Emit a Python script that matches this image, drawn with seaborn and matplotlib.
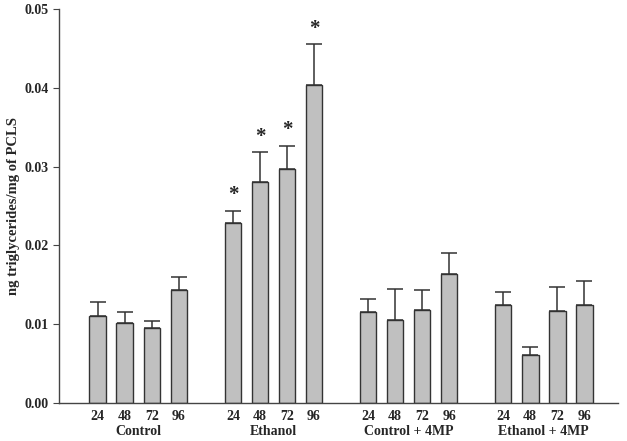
import numpy as np
import pandas as pd
import seaborn as sns
import matplotlib.pyplot as plt

groups = ["Control", "Ethanol", "Control + 4MP", "Ethanol + 4MP"]
hours = ["24", "48", "72", "96"]
means = {
    "Control": [0.0110, 0.0102, 0.0095, 0.0144],
    "Ethanol": [0.0229, 0.0280, 0.0297, 0.0403],
    "Control + 4MP": [0.0115, 0.0105, 0.0118, 0.0164],
    "Ethanol + 4MP": [0.0124, 0.0061, 0.0117, 0.0125],
}
errors = {
    "Control": [0.0018, 0.0014, 0.0009, 0.0016],
    "Ethanol": [0.0015, 0.0038, 0.0029, 0.0052],
    "Control + 4MP": [0.0017, 0.0040, 0.0026, 0.0026],
    "Ethanol + 4MP": [0.0017, 0.0010, 0.0030, 0.0030],
}
significant = {
    "Control": [False] * 4,
    "Ethanol": [True] * 4,
    "Control + 4MP": [False] * 4,
    "Ethanol + 4MP": [False] * 4,
}

# one slot per bar, one empty slot between groups
rows = []
for g_idx, g in enumerate(groups):
    for h_idx, h in enumerate(hours):
        rows.append({"pos": g_idx * 5 + h_idx, "group": g, "hour": h,
                     "mean": means[g][h_idx], "err": errors[g][h_idx],
                     "sig": significant[g][h_idx]})
df = pd.DataFrame(rows)

sns.set_style("ticks")
plt.rcParams['font.family'] = ['Liberation Serif', 'DejaVu Serif']
plt.rcParams['font.weight'] = 'bold'

fig = plt.figure(figsize=(6.27, 4.41), dpi=100)
ax = fig.add_axes([0.094, 0.086, 0.892, 0.894])

sns.barplot(data=df, x="pos", y="mean", native_scale=True, width=0.62,
            color="#c0c0c0", edgecolor="#333333", linewidth=1.0,
            errorbar=None, ax=ax)
for bar in ax.patches:
    bar.set_facecolor("#c0c0c0")

ax.errorbar(df["pos"], df["mean"], yerr=[np.zeros(len(df)), df["err"]],
            fmt="none", ecolor="#333333", elinewidth=1.1, capsize=6,
            capthick=1.1)

for _, r in df[df["sig"]].iterrows():
    ax.annotate("*", (r["pos"], r["mean"] + r["err"]), xytext=(0, 4),
                textcoords="offset points", ha="center", va="bottom",
                fontsize=15, fontweight="bold")

ax.set_xlim(-1.44, 19.26)
ax.set_ylim(0, 0.05)
ax.set_yticks([0.0, 0.01, 0.02, 0.03, 0.04, 0.05])
ax.set_yticklabels(["0.00", "0.01", "0.02", "0.03", "0.04", "0.05"])
ax.set_xticks(df["pos"])
ax.set_xticklabels(df["hour"])
ax.tick_params(axis="x", length=0, pad=5, labelsize=10)
ax.tick_params(axis="y", length=4, direction="out", labelsize=10,
               color="#444444")
for lab in ax.get_xticklabels() + ax.get_yticklabels():
    lab.set_fontweight("bold")

for g_idx, g in enumerate(groups):
    ax.annotate(g, (g_idx * 5 + 1.5, 0), xycoords=("data", "axes fraction"),
                xytext=(0, -16), textcoords="offset points", ha="center",
                va="top", fontsize=10, fontweight="bold")

ax.set_xlabel("")
ax.set_ylabel("ng triglycerides/mg of PCLS", fontsize=10.5, fontweight="bold",
              labelpad=3)

sns.despine(ax=ax)
for s in ["left", "bottom"]:
    ax.spines[s].set_color("#444444")
    ax.spines[s].set_linewidth(1.0)

fig.savefig("out.png", dpi=100)
